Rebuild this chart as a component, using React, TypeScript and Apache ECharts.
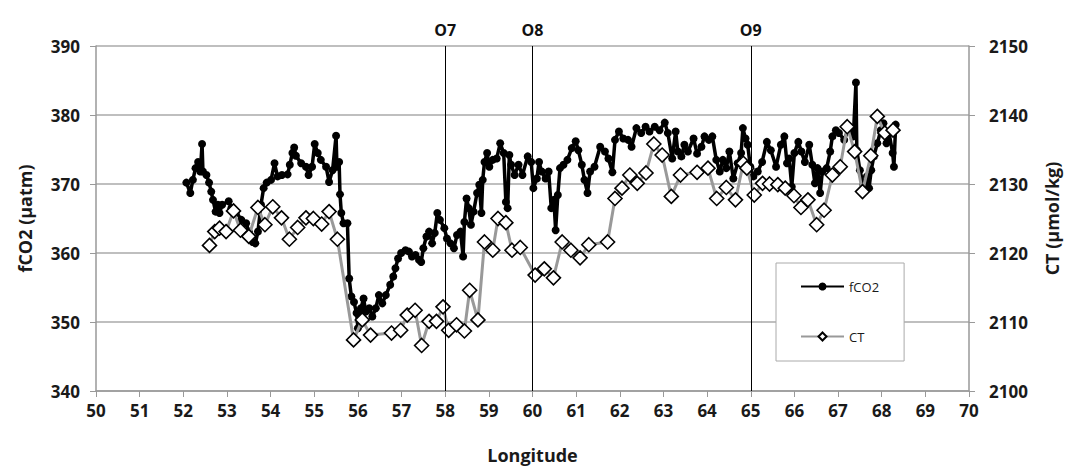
import React, { useEffect, useRef } from "react";
import * as echarts from "echarts";

const fco2Lon = [52.07,52.16,52.22,52.28,52.34,52.39,52.43,52.45,52.53,52.59,52.64,52.68,52.74,52.79,52.83,52.89,53.04,53.10,53.21,53.33,53.44,53.50,53.59,53.65,53.71,53.78,53.84,53.91,54.01,54.09,54.16,54.26,54.39,54.44,54.50,54.54,54.58,54.70,54.81,54.87,54.95,55.01,55.08,55.15,55.27,55.34,55.42,55.50,55.52,55.57,55.59,55.62,55.67,55.76,55.80,55.85,55.91,55.97,56.00,56.07,56.13,56.18,56.26,56.33,56.41,56.48,56.56,56.64,56.74,56.81,56.86,56.92,56.99,57.09,57.17,57.24,57.32,57.40,57.45,57.50,57.57,57.63,57.70,57.76,57.82,57.88,57.98,58.04,58.12,58.20,58.27,58.35,58.41,58.44,58.49,58.54,58.59,58.65,58.73,58.78,58.83,58.86,58.90,58.96,59.01,59.09,59.18,59.26,59.34,59.39,59.43,59.47,59.51,59.59,59.68,59.77,59.89,59.97,60.02,60.10,60.15,60.21,60.30,60.37,60.43,60.49,60.53,60.58,60.63,60.71,60.80,60.90,60.99,61.05,61.13,61.19,61.26,61.32,61.42,61.55,61.66,61.74,61.83,61.89,61.98,62.08,62.19,62.27,62.38,62.49,62.59,62.68,62.80,62.91,63.03,63.10,63.20,63.28,63.33,63.41,63.48,63.56,63.69,63.77,63.87,63.94,64.04,64.12,64.21,64.29,64.36,64.44,64.51,64.60,64.70,64.78,64.82,64.88,64.93,64.99,65.06,65.16,65.26,65.37,65.46,65.58,65.69,65.77,65.83,65.88,65.94,66.00,66.09,66.16,66.24,66.34,66.41,66.47,66.53,66.59,66.64,66.74,66.82,66.87,66.95,67.02,67.14,67.25,67.35,67.41,67.43,67.50,67.58,67.66,67.71,67.76,67.82,67.90,67.98,68.04,68.11,68.17,68.25,68.28,68.32];
const fco2Val = [370.2,368.7,370.6,372.3,373.2,371.8,375.8,371.8,371.3,370.2,368.9,367.7,366.0,367.0,365.8,367.0,367.5,366.5,366.0,364.8,364.3,363.1,361.6,361.4,363.1,367.0,369.4,370.2,370.6,373.0,371.1,371.3,371.4,372.8,374.5,375.3,374.1,373.0,372.5,371.3,372.5,375.8,374.5,373.5,372.5,370.3,372.0,377.0,372.5,373.2,368.5,365.8,364.3,364.3,356.3,353.7,352.9,351.3,349.1,352.0,353.4,351.5,352.0,350.8,352.0,353.9,352.7,353.9,355.4,356.6,357.8,359.2,360.0,360.4,360.2,359.5,359.7,359.0,358.7,360.7,362.4,363.1,361.4,362.9,365.8,364.8,363.6,362.1,361.4,360.7,362.6,363.1,359.5,364.5,367.9,366.5,364.1,366.0,368.7,369.9,365.8,370.6,373.2,374.5,372.5,373.5,373.7,375.9,374.5,367.4,366.5,374.2,372.8,371.3,372.8,371.3,374.0,373.2,369.4,370.8,373.2,371.8,370.8,371.8,366.5,367.7,363.3,368.4,372.3,372.8,373.5,375.2,376.2,374.9,372.8,370.6,368.7,371.8,372.5,375.4,374.7,373.7,371.7,376.4,377.6,376.6,376.4,375.4,378.1,377.4,378.3,377.6,378.3,377.8,378.9,377.4,373.7,377.6,374.7,374.0,375.7,374.7,376.6,374.4,375.4,376.9,376.4,376.9,373.5,371.8,373.5,372.3,374.7,370.8,373.0,374.5,378.1,376.6,375.7,372.5,371.1,371.8,373.2,376.1,374.9,372.5,375.7,376.9,373.0,373.7,369.6,374.5,376.1,374.7,373.2,375.7,372.8,370.1,372.3,368.7,371.8,372.3,374.7,376.9,377.8,377.4,376.4,378.1,376.9,384.7,374.9,372.0,369.9,371.1,369.4,372.0,374.0,375.9,377.8,378.8,375.9,377.4,374.5,372.5,378.6];

const ctLon = [52.60,52.72,52.83,52.98,53.15,53.31,53.50,53.71,53.87,54.05,54.25,54.43,54.62,54.81,54.98,55.17,55.34,55.53,55.90,56.10,56.29,56.77,56.98,57.13,57.31,57.46,57.63,57.80,57.95,58.08,58.26,58.44,58.56,58.75,58.90,59.09,59.21,59.39,59.53,59.72,60.06,60.27,60.48,60.68,60.88,61.09,61.29,61.72,61.89,62.05,62.23,62.40,62.60,62.78,62.97,63.18,63.39,63.77,64.02,64.22,64.44,64.65,64.83,64.91,65.08,65.27,65.43,65.62,65.79,65.99,66.15,66.31,66.51,66.68,66.87,67.05,67.21,67.38,67.56,67.75,67.90,68.07,68.26];
const ctVal = [2121.1,2123.1,2123.6,2123.1,2126.1,2123.3,2122.4,2126.6,2124.1,2126.7,2125.1,2122.0,2123.7,2125.1,2125.0,2124.2,2126.0,2122.0,2107.4,2110.3,2108.1,2108.4,2108.8,2111.0,2111.7,2106.6,2110.1,2110.1,2112.2,2108.8,2109.6,2108.7,2114.6,2110.3,2121.6,2120.4,2125.0,2124.4,2120.4,2120.8,2116.8,2117.7,2116.4,2121.6,2120.4,2119.3,2121.2,2121.6,2127.9,2129.4,2131.3,2130.1,2131.6,2135.8,2134.2,2128.2,2131.3,2131.7,2132.3,2127.9,2129.5,2127.7,2133.0,2132.3,2128.4,2130.1,2130.0,2129.9,2129.4,2128.3,2126.6,2127.7,2124.1,2126.2,2131.3,2132.5,2138.3,2134.7,2128.9,2134.1,2139.8,2137.4,2137.8];

const stationLon = [58, 60, 65];
const stationNames = ["O7", "O8", "O9"];

const FONT = "'Open Sans', 'Liberation Sans', sans-serif";

export default function App() {
  const ref = useRef<HTMLDivElement>(null);
  useEffect(() => {
    if (!ref.current) return;
    const chart = echarts.init(ref.current, undefined, { renderer: "svg" });
    const axisLabel = { fontFamily: FONT, fontWeight: "bold", fontSize: 17, color: "#1a1a1a" };
    const axisName = { fontFamily: FONT, fontWeight: "bold", fontSize: 18, color: "#1a1a1a" };
    chart.setOption({
      animation: false,
      backgroundColor: "#fff",
      grid: { left: 96, right: 89, top: 46, bottom: 79 },
      legend: {
        orient: "vertical",
        left: 776,
        top: 263,
        padding: [17, 25, 18, 24],
        itemGap: 37,
        itemWidth: 43,
        itemHeight: 10,
        backgroundColor: "#fff",
        borderColor: "#aaa",
        borderWidth: 1,
        textStyle: { fontFamily: FONT, fontSize: 13, color: "#1a1a1a" },
        data: ["fCO2", "CT"],
      },
      xAxis: {
        type: "value",
        min: 50,
        max: 70,
        interval: 1,
        name: "Longitude",
        nameLocation: "middle",
        nameGap: 55,
        nameTextStyle: axisName,
        axisLine: { lineStyle: { color: "#999", width: 1.5 } },
        axisTick: { show: true, length: 6, lineStyle: { color: "#999" } },
        axisLabel: { ...axisLabel, margin: 11 },
        splitLine: { show: false },
      },
      yAxis: [
        {
          type: "value",
          min: 340,
          max: 390,
          interval: 10,
          name: "fCO2 (µatm)",
          nameLocation: "middle",
          nameGap: 62,
          nameRotate: 90,
          nameTextStyle: axisName,
          axisLine: { show: true, lineStyle: { color: "#999", width: 1.5 } },
          axisTick: { show: true, length: 6, lineStyle: { color: "#999" } },
          axisLabel: { ...axisLabel, margin: 16 },
          splitLine: { show: true, lineStyle: { color: "#aaa", width: 1.5 } },
        },
        {
          type: "value",
          min: 2100,
          max: 2150,
          interval: 10,
          name: "CT (µmol/kg)",
          nameLocation: "middle",
          nameGap: 74,
          nameRotate: 90,
          nameTextStyle: axisName,
          axisLine: { show: true, lineStyle: { color: "#999", width: 1.5 } },
          axisTick: { show: true, length: 6, lineStyle: { color: "#999" } },
          axisLabel: { ...axisLabel, margin: 20, formatter: (v: number) => String(v) },
          splitLine: { show: false },
        },
      ],
      series: [
        {
          name: "fCO2",
          type: "line",
          yAxisIndex: 0,
          data: fco2Lon.map((x, i) => [x, fco2Val[i]]),
          symbol: "circle",
          symbolSize: 8,
          lineStyle: { color: "#000", width: 3.5 },
          itemStyle: { color: "#000" },
          z: 2,
          markLine: {
            silent: true,
            symbol: ["none", "none"],
            lineStyle: { color: "#000", width: 1, type: "solid" },
            label: {
              position: "end",
              distance: 8,
              fontFamily: FONT,
              fontWeight: "bold",
              fontSize: 16,
              color: "#111",
              formatter: (p: any) => p.name,
            },
            data: stationLon.map((x, i) => ({ xAxis: x, name: stationNames[i] })),
          },
        },
        {
          name: "CT",
          type: "line",
          yAxisIndex: 1,
          data: ctLon.map((x, i) => [x, ctVal[i]]),
          symbol: "diamond",
          symbolSize: 14,
          lineStyle: { color: "#999", width: 3 },
          itemStyle: { color: "#fff", borderColor: "#000", borderWidth: 1.6 },
          z: 3,
        },
      ],
    });
    return () => chart.dispose();
  }, []);
  return (
    <div
      ref={ref}
      style={{ position: "fixed", left: 0, top: 0, width: 1069, height: 470, background: "#fff" }}
    />
  );
}
